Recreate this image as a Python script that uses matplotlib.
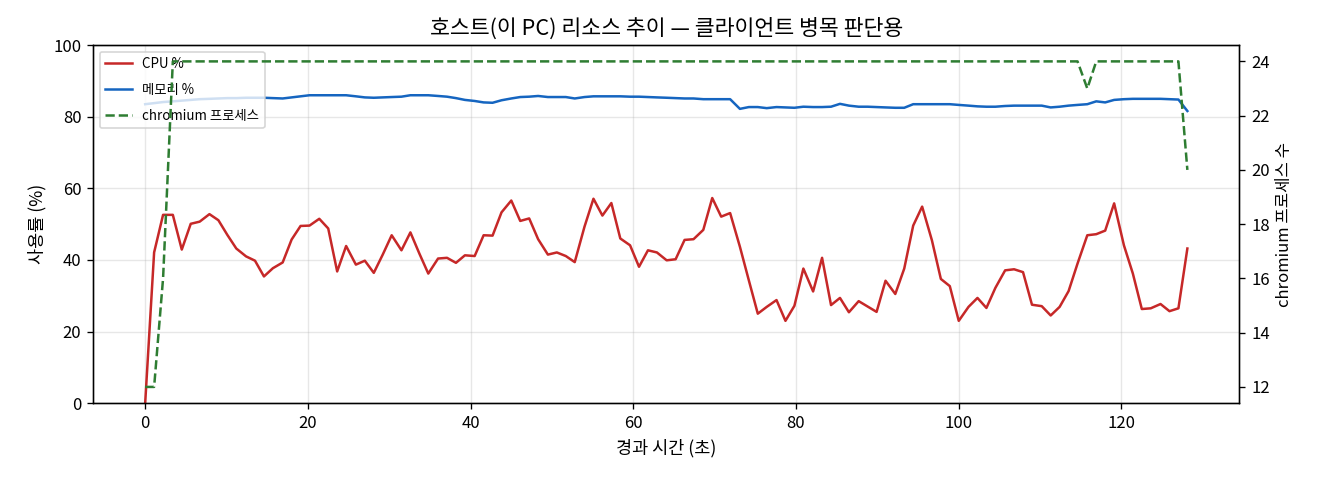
import matplotlib
matplotlib.use("Agg")
import matplotlib.pyplot as plt

plt.rcParams['font.family'] = ['Noto Sans CJK KR', 'DejaVu Sans']
plt.rcParams['axes.unicode_minus'] = False

# 경과 시간 (초), 약 1.12초 간격 샘플
elapsed = [0.0, 1.1, 2.2, 3.4, 4.5, 5.6, 6.7, 7.9, 9.0, 10.1, 11.2, 12.4, 13.5, 14.6, 15.7,
           16.9, 18.0, 19.1, 20.2, 21.4, 22.5, 23.6, 24.7, 25.9, 27.0, 28.1, 29.2, 30.3, 31.5,
           32.6, 33.7, 34.8, 36.0, 37.1, 38.2, 39.3, 40.5, 41.6, 42.7, 43.8, 45.0, 46.1, 47.2,
           48.3, 49.5, 50.6, 51.7, 52.8, 54.0, 55.1, 56.2, 57.3, 58.4, 59.6, 60.7, 61.8, 62.9,
           64.1, 65.2, 66.3, 67.4, 68.6, 69.7, 70.8, 71.9, 73.1, 74.2, 75.3, 76.4, 77.6, 78.7,
           79.8, 80.9, 82.1, 83.2, 84.3, 85.4, 86.5, 87.7, 88.8, 89.9, 91.0, 92.2, 93.3, 94.4,
           95.5, 96.7, 97.8, 98.9, 100.0, 101.2, 102.3, 103.4, 104.5, 105.7, 106.8, 107.9,
           109.0, 110.2, 111.3, 112.4, 113.5, 114.6, 115.8, 116.9, 118.0, 119.1, 120.3, 121.4,
           122.5, 123.6, 124.8, 125.9, 127.0, 128.1]

cpu = [0.0, 42.1, 52.6, 52.6, 42.9, 50.1, 50.7, 52.8, 51.1, 47.0, 43.2, 41.0, 39.8, 35.4, 37.7,
       39.3, 45.7, 49.5, 49.6, 51.5, 48.8, 36.8, 43.9, 38.7, 39.8, 36.4, 41.5, 46.9, 42.7,
       47.7, 41.8, 36.2, 40.4, 40.6, 39.2, 41.3, 41.1, 46.9, 46.8, 53.3, 56.6, 50.9, 51.6,
       45.8, 41.5, 42.1, 41.1, 39.4, 49.3, 57.1, 52.4, 55.9, 46.0, 44.1, 38.1, 42.7, 42.1,
       39.9, 40.2, 45.6, 45.8, 48.4, 57.3, 52.1, 53.1, 43.7, 34.3, 25.0, 26.9, 28.8, 23.0,
       27.2, 37.6, 31.2, 40.6, 27.4, 29.4, 25.4, 28.5, 27.0, 25.5, 34.2, 30.5, 37.6, 49.6,
       54.9, 45.5, 34.7, 32.7, 23.0, 26.9, 29.4, 26.6, 32.2, 37.1, 37.4, 36.6, 27.5, 27.1,
       24.5, 26.9, 31.3, 39.0, 46.9, 47.2, 48.2, 55.8, 44.1, 36.2, 26.3, 26.5, 27.7, 25.7,
       26.5, 43.2]

mem = [83.5, 83.8, 84.1, 84.3, 84.5, 84.7, 84.9, 85.0, 85.1, 85.2, 85.2, 85.3, 85.3, 85.3, 85.2,
       85.1, 85.4, 85.7, 86.0, 86.0, 86.0, 86.0, 86.0, 85.7, 85.4, 85.3, 85.4, 85.5, 85.6,
       86.0, 86.0, 86.0, 85.8, 85.6, 85.2, 84.7, 84.4, 84.0, 83.9, 84.6, 85.1, 85.5, 85.6,
       85.8, 85.5, 85.5, 85.5, 85.1, 85.5, 85.7, 85.7, 85.7, 85.7, 85.6, 85.6, 85.5, 85.4,
       85.3, 85.2, 85.1, 85.1, 84.9, 84.9, 84.9, 84.9, 82.2, 82.7, 82.7, 82.4, 82.7, 82.6,
       82.5, 82.8, 82.7, 82.7, 82.8, 83.6, 83.1, 82.8, 82.8, 82.7, 82.6, 82.5, 82.5, 83.5,
       83.5, 83.5, 83.5, 83.5, 83.3, 83.1, 82.9, 82.8, 82.8, 83.0, 83.1, 83.1, 83.1, 83.1,
       82.6, 82.8, 83.1, 83.3, 83.5, 84.3, 84.0, 84.7, 84.9, 85.0, 85.0, 85.0, 85.0, 84.9,
       84.8, 81.6]

chromium = [12, 12, 16] + [24] * 100 + [23] + [24] * 10 + [20]

fig, ax1 = plt.subplots(figsize=(11, 4), dpi=120)
fig.subplots_adjust(left=0.0705, right=0.939, top=0.906, bottom=0.16)

l1, = ax1.plot(elapsed, cpu, color='#c62828', lw=1.5, label='CPU %')
l2, = ax1.plot(elapsed, mem, color='#1565c0', lw=1.5, label='메모리 %')
ax1.set_ylim(0, 100)
ax1.set_xlabel('경과 시간 (초)', fontsize=10.5)
ax1.set_ylabel('사용률 (%)', fontsize=10.5)
ax1.grid(True, alpha=0.3)
ax1.tick_params(labelsize=10)

ax2 = ax1.twinx()
l3, = ax2.plot(elapsed, chromium, color='#2e7d32', lw=1.5, ls='--', label='chromium 프로세스')
ax2.set_ylabel('chromium 프로세스 수', fontsize=10)
ax2.tick_params(labelsize=10)

ax1.legend(handles=[l1, l2, l3], loc='upper left', fontsize=8, labelspacing=0.9)
ax1.set_title('호스트(이 PC) 리소스 추이 — 클라이언트 병목 판단용', fontsize=13)

plt.savefig('out.png')
